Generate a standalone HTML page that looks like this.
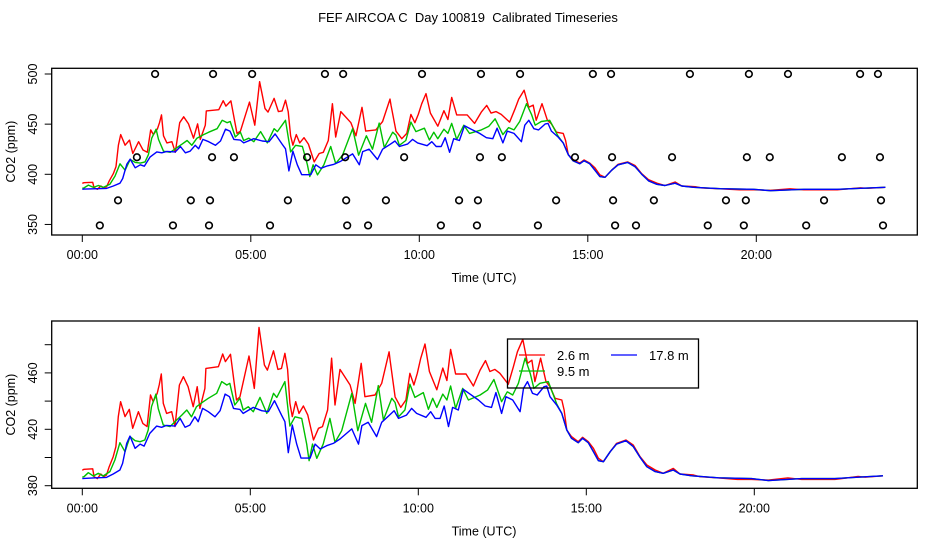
<!DOCTYPE html>
<html><head><meta charset="utf-8"><style>
html,body{margin:0;padding:0;background:#fff;}
svg text{font-family:"Liberation Sans",sans-serif;fill:#000;}
.pre{white-space:pre;}
</style></head><body>
<svg id="chart" width="936" height="540" viewBox="0 0 936 540" xmlns="http://www.w3.org/2000/svg">
<rect width="936" height="540" fill="#fff"/>
<text class="pre" xml:space="preserve" x="468" y="22" font-size="13" text-anchor="middle">FEF AIRCOA C  Day 100819  Calibrated Timeseries</text>
<g id="top"></g>
<g id="bot"></g>
</svg>
<script>
const hourTicks = [0, 5, 10, 15, 20];
const hourTickLabels = ["00:00", "05:00", "10:00", "15:00", "20:00"];
const topYTicks = [350, 400, 450, 500];
const botYTicks = [380, 400, 420, 440, 460, 480];
const botYTickLabels = ["380", "", "420", "", "460", ""];

const tailTimes = [14.27,14.42,14.56,14.76,14.89,15.06,15.21,15.36,15.51,15.71,15.9,16.18,16.4,16.6,16.8,17.05,17.29,17.59,17.79,18.14,18.93,19.92,20.42,21.41,22.4,23.09,23.83];
const tailValues = [431.3,419.5,413.6,410.5,413.6,410.5,404.1,397.7,397,404.1,409.5,411.9,407.7,400.1,393.5,390,388.8,391.1,388.3,387,385.6,385,383.6,385,385,386,387];

const redTimes = [0,0.05,0.31,0.35,0.45,0.55,0.64,0.72,0.8,0.92,1,1.07,1.14,1.27,1.4,1.5,1.67,1.8,1.93,2.03,2.11,2.23,2.29,2.35,2.41,2.51,2.66,2.76,2.89,3.01,3.15,3.3,3.42,3.5,3.65,3.68,4.05,4.18,4.26,4.41,4.51,4.59,4.69,4.96,5.12,5.26,5.42,5.51,5.69,5.82,5.93,6.03,6.11,6.18,6.25,6.35,6.45,6.58,6.71,6.88,7.03,7.15,7.3,7.42,7.52,7.67,7.97,8.12,8.3,8.41,8.71,8.91,9.13,9.16,9.31,9.48,9.63,9.75,9.87,9.97,10.07,10.2,10.33,10.55,10.73,10.85,10.96,11.11,11.42,11.64,11.84,12,12.13,12.28,12.43,12.68,12.83,12.95,13.11,13.25,13.38,13.47,13.64,13.8,13.92,14.07,14.27,14.34,14.42,14.56,14.76,14.89,15.06,15.21,15.36,15.51,15.71,15.9,16.18,16.4,16.6,16.8,17.05,17.29,17.59,17.79,18.19,18.38,18.93,19.5,19.92,20.42,21,21.41,22.4,23.09,23.3,23.83];
const redValues = [391,391.6,392,386.4,385,388.3,386.4,387.6,393.5,400.6,407.7,429,439.6,429,434.1,420.7,432.5,424.2,421.9,444.3,439.6,445.5,451.4,459.2,438.4,431.3,432.5,421.9,451.4,457.3,450.2,436,450.2,434.8,449,463.2,464.4,473.4,468,473.2,455,440.8,443,472,449,492.3,465.6,462,475.7,462.5,463.2,473.9,462.5,438.4,429,439.6,431.3,436.5,430.1,412.4,420.7,421.9,433.7,470.4,437.2,462.5,451.4,438.4,466.8,443.1,444.3,452.6,475,469,443,435.5,440.8,459.7,451.4,459.7,470.3,480.5,461,448,463.4,454.6,476.7,459.2,459.2,450.7,462,468.7,461,462.5,459.7,452,464.4,475,483.8,466.8,469,453.8,470.4,453.8,450.2,442,440.8,433.7,419.5,414.8,411.2,414.3,411.2,406.5,399.4,397,404.1,410,412.4,408.8,400.6,394.7,391.1,388.8,392.3,388.3,387.6,386.4,385.5,384.5,384.5,384,385.5,384.5,384.5,386.5,386,387];

const greenTimes = [0,0.05,0.18,0.33,0.48,0.62,0.82,0.97,1.12,1.27,1.42,1.57,1.72,1.86,1.96,2.06,2.19,2.26,2.41,2.61,2.81,2.96,3.11,3.25,3.4,3.6,3.75,4,4.15,4.3,4.39,4.54,4.69,4.79,4.94,5.09,5.29,5.49,5.69,5.79,6.03,6.18,6.33,6.53,6.68,6.75,6.85,6.98,7.17,7.37,7.52,7.72,8.02,8.2,8.43,8.61,8.81,8.96,9.21,9.31,9.41,9.6,9.75,9.9,10.15,10.3,10.43,10.55,10.73,10.85,10.96,11.11,11.32,11.49,11.84,12.06,12.25,12.48,12.65,12.81,12.98,13.18,13.33,13.44,13.62,13.87,14.02,14.12].concat(tailTimes);
const greenValues = [386,386.4,389.2,386.9,388.8,386.9,390,398.2,410.5,404.1,414.8,411.9,411.2,412.4,419.5,436,445,434.8,423,421.9,426.6,430.1,433.7,428.9,436,439.6,442,445.5,453.8,451.4,452.6,437.2,442,433.7,436,432.5,442.6,431.3,445.5,442.6,453.8,422.3,428.9,427.7,409.5,397.7,409.5,399.4,409.5,427.7,410.7,419,445.5,419,438.4,425,451,426.6,442,439,428.9,433.7,452,442.6,446,434.2,442,435.5,445,440.8,450.7,434.8,449,440.8,444.3,447.8,455.3,439.6,446.6,444.3,452.6,470.4,459.7,449,452.6,453.8,444.3,438].concat(tailValues);

const blueTimes = [0,0.05,0.33,0.72,0.92,1.12,1.2,1.32,1.42,1.57,1.72,1.84,2.01,2.21,2.36,2.51,2.76,2.91,3.06,3.2,3.35,3.45,3.58,3.75,3.95,4.1,4.25,4.38,4.5,4.69,4.79,5.09,5.34,5.54,5.72,5.93,6.03,6.13,6.25,6.38,6.51,6.78,6.93,7.08,7.27,7.47,7.67,8.02,8.22,8.32,8.51,8.76,8.91,9.13,9.28,9.41,9.65,9.8,9.95,10.23,10.37,10.5,10.65,10.77,10.9,11.02,11.19,11.34,11.54,11.79,11.99,12.18,12.31,12.48,12.61,12.81,13.03,13.13,13.25,13.4,13.54,13.74,13.82,13.92,14.12].concat(tailTimes);
const blueValues = [385,385.2,385.5,385.9,388.3,391.1,395.8,410,415.2,406.5,409.5,408.1,417.1,422.3,421.4,422.8,422.3,427.7,421.4,423,428.9,425.4,434.8,432.5,428.9,433.2,445,443.1,434.8,434.1,431.3,435.5,433.2,432.5,440.3,430.1,425.4,403.4,423,409.5,399.6,399.6,409.5,406,408.4,410,413.1,420.3,409.5,422.6,425,414.8,425,429.8,433.2,427.7,430.1,434.8,431.3,428.5,432.5,427.7,427.7,436.5,421.9,435.5,433.7,448.4,445,440.8,436.5,435.5,446,431.3,443.1,440.8,432.5,449,453.8,445.5,444.3,450.2,450.7,443.1,437.2].concat(tailValues);

const flagTimes = [2.16,3.88,5.04,7.2,7.74,10.08,11.83,12.99,15.15,15.69,18.03,19.78,20.94,23.08,23.61,
 1.62,3.85,4.5,6.67,7.8,9.55,11.8,12.45,14.62,15.72,17.5,19.72,20.4,22.54,23.67,
 1.06,3.22,3.79,6.1,7.83,9.01,11.18,11.74,14.06,15.75,16.96,19.1,19.69,22.01,23.7,
 0.52,2.69,3.76,5.57,7.86,8.48,10.64,11.71,13.52,15.81,16.43,18.56,19.63,21.48,23.76];
const flagValues = [500,500,500,500,500,500,500,500,500,500,500,500,500,500,500,
 417,417,417,417,417,417,417,417,417,417,417,417,417,417,417,
 374,374,374,374,374,374,374,374,374,374,374,374,374,374,374,
 349,349,349,349,349,349,349,349,349,349,349,349,349,349,349];

const NS = "http://www.w3.org/2000/svg";
function mk(parent, tag, attrs, text) {
  const e = document.createElementNS(NS, tag);
  for (const k in attrs) e.setAttribute(k, attrs[k]);
  if (text !== undefined) e.textContent = text;
  parent.appendChild(e);
  return e;
}

function panel(g, cfg) {
  const xs = t => cfg.x0 + t * cfg.xk;
  const ys = v => cfg.yRef - (v - cfg.vRef) * cfg.yk;
  const box = mk(g, "rect", {x: cfg.left, y: cfg.top, width: cfg.right - cfg.left, height: cfg.bottom - cfg.top, fill: "none", stroke: "#000", "stroke-width": 1.3});
  
  
  hourTicks.forEach((h, i) => {
    const x = xs(h);
    const tk = mk(g, "line", {x1: x, x2: x, y1: cfg.bottom, y2: cfg.bottom + 7, stroke: "#000", "stroke-width": 1});
    
    
    const lb = mk(g, "text", {x: x, y: cfg.bottom + 24, "font-size": 12.5, "text-anchor": "middle"}, hourTickLabels[i]);
    
    
  });
  const xt = mk(g, "text", {x: 484, y: cfg.bottom + 47, "font-size": 12.5, "text-anchor": "middle"}, "Time (UTC)");
  
  
  cfg.yTicks.forEach((v, i) => {
    const y = ys(v);
    const tk = mk(g, "line", {x1: cfg.left - 7, x2: cfg.left, y1: y, y2: y, stroke: "#000", "stroke-width": 1});
    
    
    if (cfg.yLabels[i]) {
      const lb = mk(g, "text", {x: 37, y: y, "font-size": 12.5, "text-anchor": "middle", transform: `rotate(-90 37 ${y})`}, cfg.yLabels[i]);
      
      
    }
  });
  const cy = (cfg.top + cfg.bottom) / 2;
  const yt = mk(g, "text", {x: 15, y: cy, "font-size": 12.5, "text-anchor": "middle", transform: `rotate(-90 15 ${cy})`}, "CO2 (ppm)");
  
  
  [[redTimes, redValues, "#ff0000", "series-2-6m"], [greenTimes, greenValues, "#00c000", "series-9-5m"], [blueTimes, blueValues, "#0000ff", "series-17-8m"]].forEach(s => {
    const pts = s[0].map((t, i) => xs(t).toFixed(1) + "," + ys(s[1][i]).toFixed(1)).join(" ");
    const pl = mk(g, "polyline", {points: pts, fill: "none", stroke: s[2], "stroke-width": 1.4, "stroke-linejoin": "round"});
    
    
  });
  if (cfg.flags) {
    flagTimes.forEach((t, i) => {
      const c = mk(g, "circle", {cx: xs(t), cy: ys(flagValues[i]), r: 3.3, fill: "none", stroke: "#000", "stroke-width": 1.6});
      
      
    });
  }
}

panel(document.getElementById("top"), {left: 51.7, right: 917.3, top: 68.3, bottom: 235, x0: 82.3, xk: 33.7, yRef: 174.3, vRef: 400, yk: 1.003, yTicks: topYTicks, yLabels: topYTicks.map(String), flags: true});
panel(document.getElementById("bot"), {left: 51.7, right: 917.3, top: 321, bottom: 488.3, x0: 82.3, xk: 33.6, yRef: 485.7, vRef: 380, yk: 1.41, yTicks: botYTicks, yLabels: botYTickLabels, flags: false});

const bot = document.getElementById("bot");
const lg = mk(bot, "g", {});


const lr = mk(lg, "rect", {x: 507.5, y: 339, width: 191, height: 49, fill: "none", stroke: "#000", "stroke-width": 1.3});


const entries = [[519, 355, "#ff0000", "2.6 m"], [611, 355, "#0000ff", "17.8 m"], [519, 371, "#00c000", "9.5 m"]];
entries.forEach(e => {
  const l = mk(lg, "line", {x1: e[0], x2: e[0] + 26, y1: e[1], y2: e[1], stroke: e[2], "stroke-width": 1.3});
  
  
  const t = mk(lg, "text", {x: e[0] + 38, y: e[1] + 5, "font-size": 13}, e[3]);
  
  
});
</script>
</body></html>
